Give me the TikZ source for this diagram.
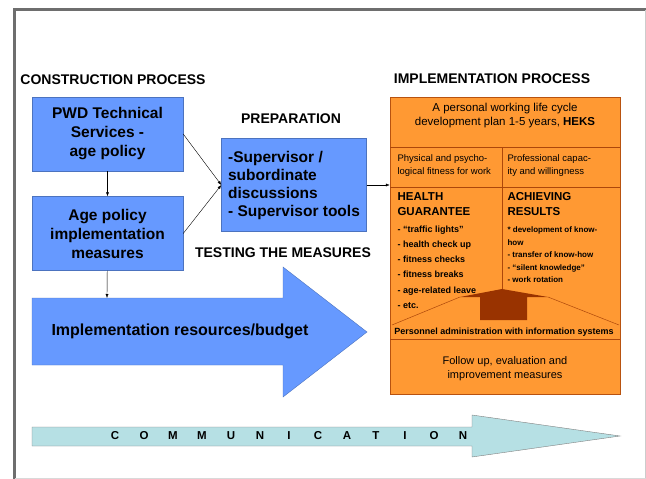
\documentclass[tikz,border=0pt]{standalone}
\usepackage{fontspec}
\setmainfont{Liberation Sans}
\usetikzlibrary{arrows.meta}

\definecolor{boxblue}{HTML}{6699FF}
\definecolor{implorange}{HTML}{FF9933}
\definecolor{arrowbrown}{HTML}{993300}
\definecolor{commcyan}{HTML}{B6E0E4}
\definecolor{framegray}{HTML}{6E6E6E}

\tikzset{
  bluebox/.style={draw=boxblue!75!black, fill=boxblue, minimum width=151pt, minimum height=74pt,
    align=center, font=\fontsize{15.5}{19}\selectfont\bfseries},
  heading/.style={font=\fontsize{14}{16}\selectfont\bfseries},
  subhead/.style={anchor=west, align=left, font=\fontsize{11.5}{15}\selectfont\bfseries},
  flow/.style={-{Latex[length=4pt,width=3pt]}},
  implline/.style={draw=arrowbrown!80!implorange, line width=0.5pt},
}

\begin{document}
\begin{tikzpicture}[x=1pt,y=-1pt]
\useasboundingbox (0,0) rectangle (646,479);
% slide frame
\draw[framegray, line width=3pt] (14,479) -- (14,9) -- (646,9);
\draw[gray!40] (645,10) -- (645,479);
\draw[gray!30] (15,478) -- (646,478);

% construction
\node[heading] (constr) at (113,80) {CONSTRUCTION PROCESS};
\node[bluebox] (pwd) at (107.5,134) {PWD Technical\\Services -\\age policy};
\node[bluebox] (agepol) at (107.5,233.5) {Age policy\\implementation\\measures};

% preparation
\node[heading] (prephead) at (291,119) {PREPARATION};
\node[bluebox, minimum width=145pt, minimum height=93pt, align=left,
  font=\fontsize{15.5}{18}\selectfont\bfseries] (prep) at (294,185)
  {-Supervisor /\\subordinate\\discussions\\- Supervisor tools};

% testing
\node[heading] (testhead) at (283,253) {TESTING THE MEASURES};
\filldraw[fill=boxblue, draw=boxblue!75!black] (32,298) -- (283,298) -- (283,267) -- (367,332)
  -- (283,397) -- (283,365) -- (32,365) -- cycle;
\coordinate (budgettop) at (107,298);
\node[font=\fontsize{16}{19}\selectfont\bfseries] (budget) at (180,331) {Implementation resources/budget};

% implementation
\node[heading] (implhead) at (492,79) {IMPLEMENTATION PROCESS};
\node[draw=arrowbrown!70!implorange, fill=implorange, minimum width=230pt, minimum height=297pt] (impl) at (505,245.5) {};
\draw[implline] (390,147) -- (620,147);
\draw[implline] (390,187) -- (620,187);
\draw[implline] (502,147) -- (502,289);
\draw[implline] (460,297) -- (392,325);
\draw[implline] (548,297) -- (619,325);
\draw[implline] (390,339) -- (620,339);
\fill[arrowbrown] (460,297) -- (502,289) -- (548,297) -- (527,297) -- (527,320) -- (480,320) -- (480,297) -- cycle;

\node[align=center, font=\fontsize{11.5}{14}\selectfont] (plan) at (505,116)
  {A personal working life cycle\\development plan 1-5 years, \textbf{HEKS}};
\node[anchor=west, align=left, font=\fontsize{9.5}{13}\selectfont] (physical) at (394,165.5)
  {Physical and psycho-\\logical fitness for work};
\node[anchor=west, align=left, font=\fontsize{9.5}{13}\selectfont] (profcap) at (504,165.5)
  {Professional capac-\\ity and willingness};
\node[subhead] (health) at (394,204.5) {HEALTH\\GUARANTEE};
\node[subhead] (achieving) at (504,204.5) {ACHIEVING\\RESULTS};
\node[anchor=west, align=left, font=\fontsize{9}{15.2}\selectfont\bfseries] (healthlist) at (394,267)
  {- ``traffic lights''\\- health check up\\- fitness checks\\- fitness breaks\\- age-related leave\\- etc.};
\node[anchor=west, align=left, font=\fontsize{8}{12.5}\selectfont\bfseries] (resultlist) at (504,255)
  {* development of know-\\how\\- transfer of know-how\\- ``silent knowledge''\\- work rotation};
\node[font=\fontsize{9}{10}\selectfont\bfseries] (persadmin) at (504,332)
  {Personnel administration with information systems};
\node[align=center, font=\fontsize{11}{13.5}\selectfont] (followup) at (505,368.5)
  {Follow up, evaluation and\\improvement measures};

% communication
\filldraw[fill=commcyan, draw=gray] (32,427) -- (472,427) -- (472,415) -- (620,436)
  -- (472,457) -- (472,446) -- (32,446) -- cycle;
\foreach \ch [count=\i from 0] in {C,O,M,M,U,N,I,C,A,T,I,O,N}
  \node[font=\fontsize{11.5}{12}\selectfont\bfseries] (comm\i) at (115+29*\i,436) {\ch};

% connectors
\draw[flow] (pwd) -- (agepol);
\draw[flow] (agepol) -- (budgettop);
\draw[flow] (pwd.east) -- (prep.west);
\draw[flow] (agepol.east) -- (prep.west);
\draw[flow] (prep.east) -- (prep.east -| impl.west);
\end{tikzpicture}
\end{document}
